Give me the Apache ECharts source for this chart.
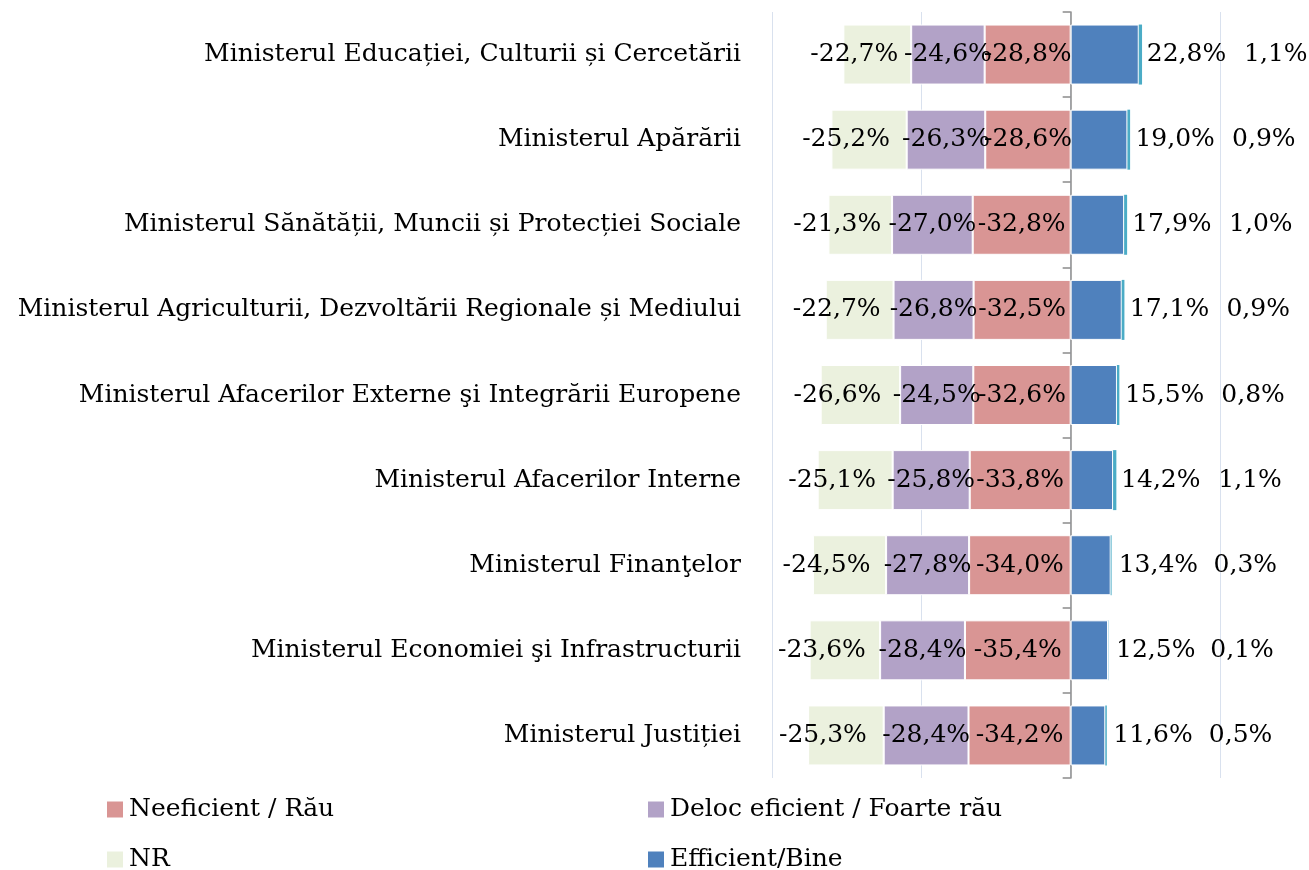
<!DOCTYPE html>
<html><head><meta charset="utf-8">
<script src="https://cdn.jsdelivr.net/npm/echarts@6/dist/echarts.min.js"></script>
<style>html,body{margin:0;padding:0;background:#fff}#c{width:1309px;height:870px}</style>
</head><body><div id="c"></div>
<script>
const categories = [
  "Ministerul Educației, Culturii și Cercetării",
  "Ministerul Apărării",
  "Ministerul Sănătății, Muncii și Protecției Sociale",
  "Ministerul Agriculturii, Dezvoltării Regionale și Mediului",
  "Ministerul Afacerilor Externe şi Integrării Europene",
  "Ministerul Afacerilor Interne",
  "Ministerul Finanţelor",
  "Ministerul Economiei şi Infrastructurii",
  "Ministerul Justiției"
];
const neeficient = [-28.8, -28.6, -32.8, -32.5, -32.6, -33.8, -34.0, -35.4, -34.2];
const deloc = [-24.6, -26.3, -27.0, -26.8, -24.5, -25.8, -27.8, -28.4, -28.4];
const nr = [-22.7, -25.2, -21.3, -22.7, -26.6, -25.1, -24.5, -23.6, -25.3];
const eficient = [22.8, 19.0, 17.9, 17.1, 15.5, 14.2, 13.4, 12.5, 11.6];
const foarteEficient = [1.1, 0.9, 1.0, 0.9, 0.8, 1.1, 0.3, 0.1, 0.5];
const xTicks = { min: -100, max: 50, interval: 50 };

const FONT = "'DejaVu Serif', serif";
const FS = 25;
const fmt = p => p.value.toFixed(1).replace('.', ',') + '%';
const lbl = (extra) => Object.assign({ show: true, formatter: fmt, color: '#000', fontFamily: FONT, fontSize: FS }, extra);
const leg = (name, left, top) => ({
  left: left, top: top, orient: 'horizontal', itemWidth: 18, itemHeight: 18, itemGap: 0,
  icon: 'rect', data: [name], selectedMode: false,
  textStyle: { color: '#000', fontFamily: FONT, fontSize: FS }
});

const chart = echarts.init(document.getElementById('c'));
chart.setOption({
  animation: false,
  grid: { left: 772, right: 89, top: 12, bottom: 92, containLabel: false },
  xAxis: {
    type: 'value', min: xTicks.min, max: xTicks.max, interval: xTicks.interval,
    axisLabel: { show: false }, axisLine: { show: false }, axisTick: { show: false },
    splitLine: { lineStyle: { color: '#d9e1ee', width: 1 } }
  },
  yAxis: [
    {
      type: 'category', inverse: true, data: categories,
      axisLine: { show: false, onZero: false }, axisTick: { show: false },
      axisLabel: { color: '#000', fontFamily: FONT, fontSize: FS, margin: 31 }
    },
    {
      type: 'category', inverse: true, data: categories, position: 'left',
      axisLine: { show: true, onZero: true, lineStyle: { color: '#8c8c8c', width: 1.5 } },
      axisTick: { show: true, length: 8, lineStyle: { color: '#8c8c8c', width: 1.5 } },
      axisLabel: { show: false }
    }
  ],
  legend: [
    leg('Neeficient / Rău', 100, 792),
    leg('NR', 100, 842),
    leg('Deloc eficient / Foarte rău', 641, 792),
    leg('Efficient/Bine', 641, 842)
  ],
  series: [
    { name: 'Neeficient / Rău', type: 'bar', stack: 'total', data: neeficient, barWidth: 60,
      itemStyle: { color: '#d99594', borderColor: '#fff', borderWidth: 1 },
      label: lbl({ position: 'inside' }) },
    { name: 'Deloc eficient / Foarte rău', type: 'bar', stack: 'total', data: deloc, barWidth: 60,
      itemStyle: { color: '#b2a2c7', borderColor: '#fff', borderWidth: 1 },
      label: lbl({ position: 'inside' }) },
    { name: 'NR', type: 'bar', stack: 'total', data: nr, barWidth: 60,
      itemStyle: { color: '#ebf1de', borderColor: '#fff', borderWidth: 1 },
      label: lbl({ position: 'inside', offset: [-23, 0] }) },
    { name: 'Efficient/Bine', type: 'bar', stack: 'total', data: eficient, barWidth: 60,
      itemStyle: { color: '#4f81bd', borderColor: '#fff', borderWidth: 1 },
      label: lbl({ position: 'right', distance: 8 }) },
    { name: 'Foarte eficient / Foarte bine', type: 'bar', stack: 'total', data: foarteEficient, barWidth: 60,
      itemStyle: { color: '#4bacc6' },
      label: lbl({ position: 'right', distance: 102 }) }
  ]
});
</script>
</body></html>
